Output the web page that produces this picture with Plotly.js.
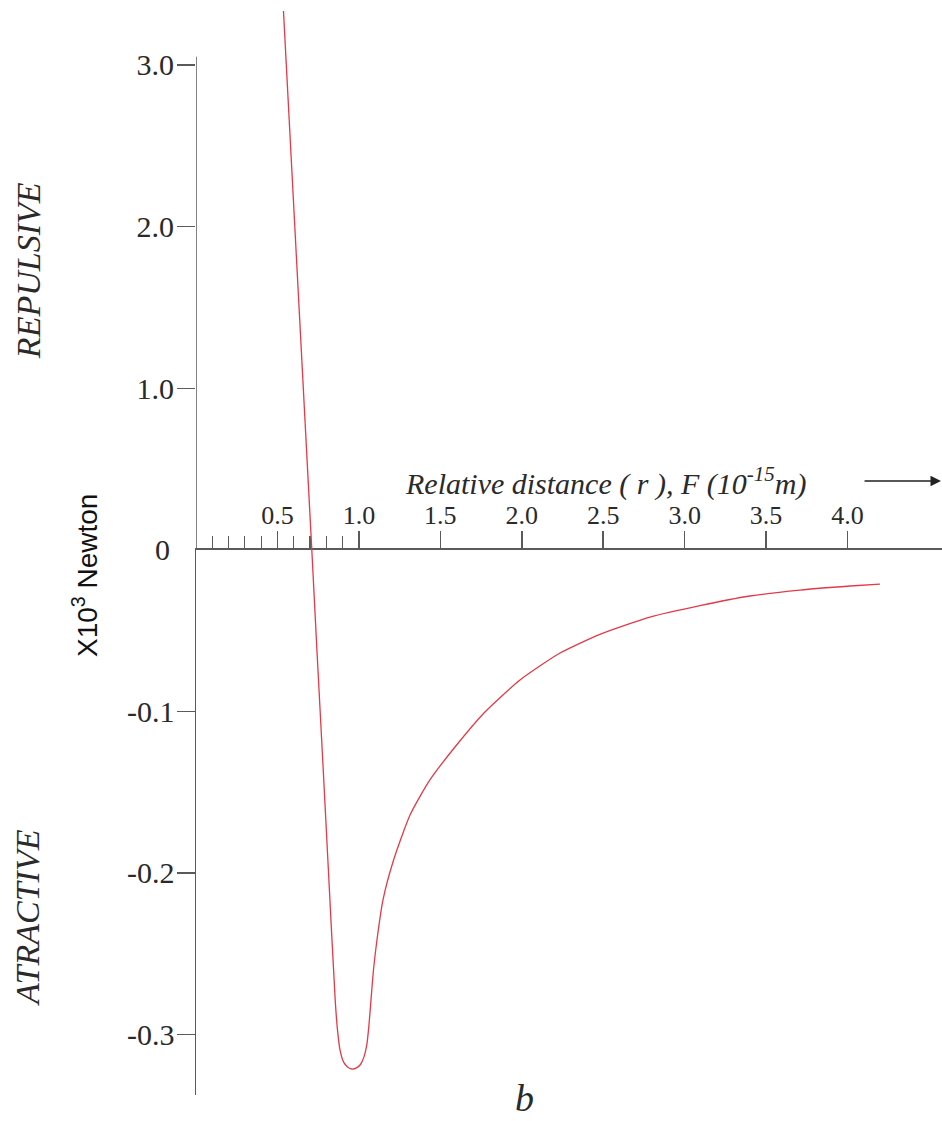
<!DOCTYPE html>
<html>
<head>
<meta charset="utf-8">
<script src="https://cdn.plot.ly/plotly-3.0.1.min.js"></script>
<style>html,body{margin:0;padding:0;background:#fff;}#chart{width:942px;height:1121px;}</style>
</head>
<body>
<div id="chart"></div>
<script>
// Repulsive branch (F > 0), in units of 10^3 N, plotted on the upper scale
const repulsiveR = [0.537, 0.623, 0.711];
const repulsiveF = [3.333, 1.667, 0.0];
// Attractive branch (F <= 0)
const attractiveR = [0.711, 0.744, 0.778, 0.8115, 0.8545, 0.8686, 0.884, 0.9055, 0.930, 0.9576, 0.9853, 1.0098, 1.0313, 1.0485, 1.062, 1.0743, 1.0896, 1.111, 1.148, 1.2093, 1.314, 1.436, 1.590, 1.774, 1.989, 2.235, 2.480, 2.787, 3.094, 3.401, 3.708, 4.015, 4.199];
const attractiveF = [0.0, -0.0650, -0.1300, -0.1957, -0.2786, -0.2972, -0.3096, -0.3170, -0.3201, -0.3214, -0.3207, -0.3186, -0.3139, -0.3065, -0.2941, -0.2786, -0.2601, -0.2415, -0.2167, -0.1932, -0.1641, -0.1424, -0.1220, -0.1003, -0.0805, -0.0638, -0.0522, -0.0415, -0.0344, -0.0285, -0.0248, -0.0223, -0.0211];

const xTickVals = [0.5, 1.0, 1.5, 2.0, 2.5, 3.0, 3.5, 4.0];
const xTickText = ['0.5', '1.0', '1.5', '2.0', '2.5', '3.0', '3.5', '4.0'];
const xMinorVals = [0.1, 0.2, 0.3, 0.4, 0.6, 0.7, 0.8, 0.9];
const yPosTickVals = [1, 2, 3];
const yPosTickText = ['1.0', '2.0', '3.0'];
const yNegTickVals = [-0.1, -0.2, -0.3];
const yNegTickText = ['-0.1', '-0.2', '-0.3'];

const SERIF = 'Liberation Serif, Times New Roman, serif';
const AX = '#5a5a5a';
const TXT = '#2a2a2a';
const CURVE = '#e23a48';

const traces = [
  {x: repulsiveR, y: repulsiveF, xaxis: 'x', yaxis: 'y2', mode: 'lines', line: {color: CURVE, width: 1.3}, hoverinfo: 'skip'},
  {x: attractiveR, y: attractiveF, xaxis: 'x', yaxis: 'y', mode: 'lines', line: {color: CURVE, width: 1.3, shape: 'spline', smoothing: 0.6}, hoverinfo: 'skip'}
];

const layout = {
  width: 942, height: 1121,
  margin: {l: 0, r: 0, t: 0, b: 0},
  paper_bgcolor: '#ffffff', plot_bgcolor: 'rgba(0,0,0,0)',
  showlegend: false,
  xaxis: {
    domain: [0.20807, 1], range: [0, 4.58], anchor: 'y', side: 'top',
    showline: true, linecolor: AX, linewidth: 1.5,
    ticks: 'outside', ticklen: 17, tickwidth: 1.5, tickcolor: AX,
    tickmode: 'array', tickvals: xTickVals, ticktext: xTickText,
    tickfont: {family: SERIF, size: 26, color: TXT}, ticklabelstandoff: -3,
    minor: {tickmode: 'array', tickvals: xMinorVals, ticks: 'outside', ticklen: 12, tickwidth: 1.2, tickcolor: AX},
    showgrid: false, zeroline: false, fixedrange: true
  },
  yaxis: {
    domain: [0.02319, 0.50937], range: [-0.3375, 0], anchor: 'x',
    showline: true, linecolor: AX, linewidth: 1.5,
    ticks: 'outside', ticklen: 18, tickwidth: 1.5, tickcolor: AX,
    tickmode: 'array', tickvals: yNegTickVals, ticktext: yNegTickText,
    tickfont: {family: SERIF, size: 30, color: TXT}, ticklabelstandoff: -4,
    showgrid: false, zeroline: false, fixedrange: true
  },
  yaxis2: {
    domain: [0.50937, 1], range: [0, 3.401], anchor: 'x',
    showline: false,
    ticks: 'outside', ticklen: 18, tickwidth: 1.5, tickcolor: AX,
    tickmode: 'array', tickvals: yPosTickVals, ticktext: yPosTickText,
    tickfont: {family: SERIF, size: 30, color: TXT}, ticklabelstandoff: -3,
    showgrid: false, zeroline: false, fixedrange: true
  },
  shapes: [
    {type: 'line', xref: 'x', yref: 'y2', x0: 0, x1: 0, y0: 0, y1: 3.05, line: {color: AX, width: 1.5}}
  ],
  annotations: [
    {text: '0', xref: 'paper', yref: 'y', x: 0.1826, y: 0, xanchor: 'right', yanchor: 'middle', showarrow: false, font: {family: SERIF, size: 30, color: TXT}},
    {text: '<i>Relative distance ( r ), F (10<sup>-15</sup>m)</i>', xref: 'paper', yref: 'paper', x: 0.643, y: 0.5705, xanchor: 'center', yanchor: 'middle', showarrow: false, font: {family: SERIF, size: 30, color: TXT}},
    {text: '', xref: 'paper', yref: 'paper', x: 0.999, y: 0.5709, axref: 'pixel', ayref: 'pixel', ax: -78, ay: 0, showarrow: true, arrowhead: 2, arrowsize: 1.4, arrowwidth: 1.5, arrowcolor: '#222'},
    {text: '<i>REPULSIVE</i>', xref: 'paper', yref: 'paper', x: 0.0297, y: 0.759, xanchor: 'center', yanchor: 'middle', textangle: -90, showarrow: false, font: {family: SERIF, size: 34, color: TXT}},
    {text: '<i>ATRACTIVE</i>', xref: 'paper', yref: 'paper', x: 0.0297, y: 0.182, xanchor: 'center', yanchor: 'middle', textangle: -90, showarrow: false, font: {family: SERIF, size: 34, color: TXT}},
    {text: 'X10<sup>3</sup> Newton', xref: 'paper', yref: 'paper', x: 0.0902, y: 0.487, xanchor: 'center', yanchor: 'middle', textangle: -90, showarrow: false, font: {family: 'Liberation Sans, Arial, sans-serif', size: 28, color: '#111'}},
    {text: '<i>b</i>', xref: 'paper', yref: 'paper', x: 0.5566, y: 0.0205, xanchor: 'center', yanchor: 'middle', showarrow: false, font: {family: SERIF, size: 38, color: TXT}}
  ]
};

Plotly.newPlot('chart', traces, layout, {displayModeBar: false, staticPlot: true});
</script>
</body>
</html>
